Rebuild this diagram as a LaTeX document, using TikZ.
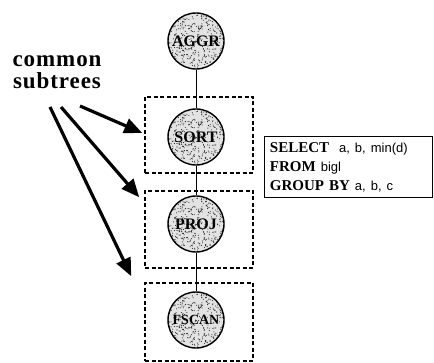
\documentclass[tikz,border=0pt]{standalone}
\usepackage{fontspec}
\setmainfont{Liberation Serif}
\newfontfamily\sqlsans{Liberation Sans}
\newfontfamily\calloutfont[LetterSpace=4]{Liberation Serif}
\usetikzlibrary{arrows.meta,calc}
\newcommand\sqlarg[1]{{\sqlsans\fontsize{13}{19}\selectfont #1}}

\begin{document}
\begin{tikzpicture}[x=1pt,y=-1pt,
  opnode/.style={circle, draw, line width=1.4pt, minimum size=56pt, inner sep=0pt,
    fill=gray!22, font=\fontsize{16}{16}\selectfont\bfseries,
    path picture={
      \pgfmathsetseed{11}
      \foreach \i in {1,...,420}{
        \fill[black!85] ($(path picture bounding box.center)+(rand*29,rand*29)$) circle (0.55);
      }
    }},
  groupbox/.style={draw, dash pattern=on 4pt off 2.5pt, line width=1.5pt,
    minimum width=108pt, inner sep=0pt},
  treeedge/.style={line width=1pt},
  pointer/.style={line width=3.2pt, -{Triangle[length=18pt,width=15pt]}},
  callout/.style={font=\calloutfont\bfseries\fontsize{23}{22}\selectfont,
    align=center, inner sep=0pt},
]
\useasboundingbox (0,0) rectangle (434,363);

% dashed frames around the shared subtrees
\node[groupbox, minimum height=76pt] (box1) at (199,135) {};
\node[groupbox, minimum height=77pt] (box2) at (199,229.5) {};
\node[groupbox, minimum height=78pt] (box3) at (199,322) {};

% operator tree
\node[opnode] (aggr)  at (196,41)  {AGGR};
\node[opnode] (sort)  at (196,137) {SORT};
\node[opnode] (proj)  at (196,224) {PROJ};
\node[opnode, font=\fontsize{14}{14}\selectfont\bfseries] (fscan) at (196,320) {FSCAN};

\draw[treeedge] (aggr) -- (sort);
\draw[treeedge] (sort) -- (proj);
\draw[treeedge] (proj) -- (fscan);

% query text
\node[draw, line width=0.9pt, anchor=north west, text width=157pt, inner xsep=5.5pt,
      minimum height=61pt, align=left, font=\fontsize{15}{19}\selectfont] (query) at (264,136)
  {{\bfseries SELECT}\ \ \sqlarg{a, b, min(d)}\\
   {\bfseries FROM} \sqlarg{bigl}\\
   {\bfseries GROUP BY} \sqlarg{a, b, c}};

% callout
\node[callout, anchor=south] (callout) at (57,89) {common\\subtrees};

\coordinate (p1) at (80,106);
\coordinate (p2) at (61,107);
\coordinate (p3) at (50,107);

\draw[pointer] (p1) -- ([shift={(-2,-2)}]box1.west);
\draw[pointer] (p2) -- ([shift={(-5,7)}]box2.north west);
\draw[pointer] (p3) -- ([shift={(-13,-6)}]box3.north west);
\end{tikzpicture}
\end{document}
